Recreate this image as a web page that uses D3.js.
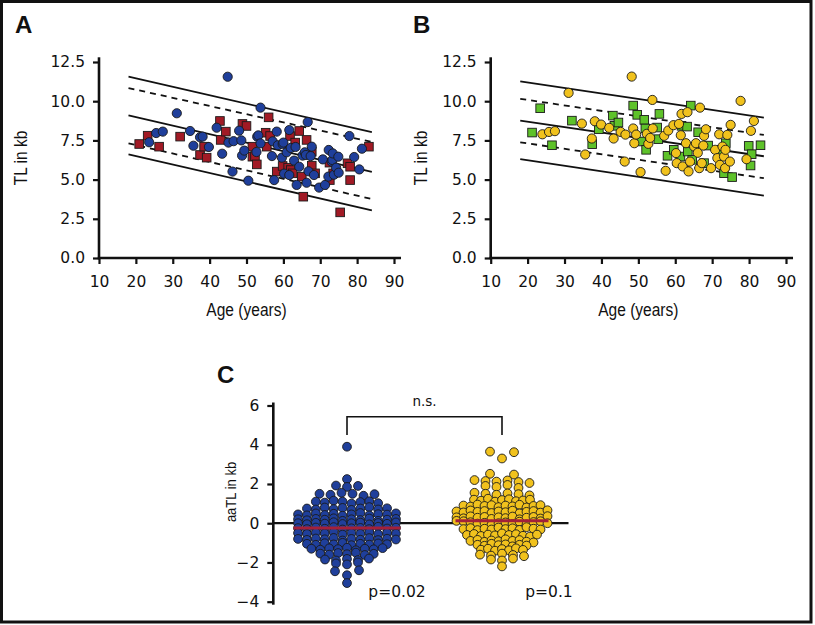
<!DOCTYPE html>
<html><head><meta charset="utf-8">
<script src="https://cdn.jsdelivr.net/npm/d3@7"></script>
<style>body{margin:0;background:#fff}svg{display:block}</style>
</head><body>
<script>
// ---------- DATA ----------
const xTicks = [10,20,30,40,50,60,70,80,90];
const yTicksAB = [0,2.5,5,7.5,10,12.5];
const yTicksC = [-4,-2,0,2,4,6];

// Panel A: blue circles [age, TL]
const aCircles = [[23.6,7.38],[25.5,7.97],[27.3,8.06],[31.1,9.23],[34.7,8.10],[35.6,7.16],[37.4,7.70],[38.1,7.74],[39.8,7.08],[41.9,8.31],[43.4,6.65],[44.9,11.56],[45.1,7.36],[46.2,5.51],[46.5,7.45],[48.0,8.12],[48.6,7.50],[48.8,6.53],[49.4,6.85],[50.5,4.93],[52.7,6.76],[52.9,7.74],[53.2,7.82],[53.8,9.59],[53.8,7.31],[56.9,6.50],[57.1,7.44],[57.5,4.97],[58.2,8.06],[58.5,7.19],[59.6,6.40],[59.8,7.27],[60.0,7.36],[60.2,5.38],[60.9,6.74],[61.6,8.16],[61.6,5.29],[62.0,7.02],[62.9,6.21],[63.3,7.08],[63.6,4.66],[64.3,5.82],[65.2,6.53],[65.8,6.74],[66.1,6.57],[66.3,4.80],[66.6,8.67],[66.8,5.53],[67.4,6.50],[67.7,7.10],[68.3,5.29],[69.7,4.49],[70.7,6.29],[71.3,4.66],[72.2,5.19],[72.3,6.89],[73.1,6.14],[73.3,6.25],[73.4,6.67],[73.7,5.31],[74.3,5.76],[74.9,6.46],[75.0,5.44],[77.9,7.78],[79.2,6.44],[80.6,5.65],[81.3,6.97]];
// Panel A: red squares
const aSquares = [[20.9,7.27],[23.2,7.80],[26.3,7.10],[32.0,7.74],[37.4,6.57],[38.5,7.10],[39.2,6.40],[42.8,8.74],[43.0,7.53],[44.4,8.06],[48.9,8.55],[50.0,8.42],[51.6,7.10],[51.6,6.46],[52.3,6.50],[52.8,5.97],[55.2,7.99],[55.5,7.10],[56.0,8.97],[56.4,7.78],[58.2,5.51],[59.8,5.87],[61.3,5.76],[61.8,7.78],[62.0,5.61],[62.5,5.40],[63.2,7.36],[64.3,8.10],[65.0,5.19],[65.4,3.91],[66.3,7.53],[67.7,6.78],[67.7,5.89],[68.6,5.40],[72.5,6.08],[72.6,4.97],[73.5,5.40],[75.4,2.91],[77.4,6.04],[78.1,5.82],[78.1,4.97],[83.2,7.10]];
// Panel B: yellow circles
const bCircles = [[24.0,7.89],[25.8,8.04],[27.4,8.09],[31.1,10.53],[34.7,8.57],[35.6,6.60],[37.4,7.62],[38.2,8.72],[39.9,8.51],[42.1,8.30],[43.3,7.62],[45.2,8.04],[46.3,6.15],[46.5,7.87],[48.2,11.57],[48.6,8.26],[48.9,7.32],[49.4,7.87],[50.6,5.48],[52.3,7.92],[52.7,7.28],[53.2,7.66],[53.8,10.08],[53.9,8.26],[57.0,7.79],[57.4,5.56],[58.1,8.13],[59.5,8.47],[60.2,6.69],[60.4,6.05],[61.0,8.55],[61.5,7.83],[61.7,9.19],[62.0,5.84],[62.9,7.32],[63.3,9.30],[63.6,5.52],[64.0,6.15],[65.1,7.11],[65.6,7.32],[66.1,6.71],[66.5,5.73],[66.7,9.59],[67.2,6.05],[67.6,7.17],[67.8,7.79],[68.3,8.21],[69.7,5.73],[70.8,6.90],[71.4,6.37],[71.9,7.89],[72.1,5.94],[72.8,7.11],[73.2,6.47],[73.5,5.73],[73.6,6.90],[74.1,7.85],[74.8,6.15],[75.0,8.49],[77.7,10.02],[79.3,6.30],[80.5,8.11],[81.3,8.74]];
// Panel B: green squares
const bSquares = [[21.2,8.00],[23.4,9.55],[26.6,7.19],[32.0,8.76],[37.5,7.26],[39.3,8.21],[43.1,9.08],[43.5,8.43],[44.6,8.64],[48.6,9.72],[49.7,9.13],[50.8,7.43],[51.6,8.81],[51.9,8.26],[52.1,6.90],[55.1,8.32],[55.4,7.58],[55.7,9.19],[57.9,6.52],[59.6,6.90],[61.4,6.47],[61.7,8.43],[63.2,8.38],[63.4,6.79],[64.2,9.72],[64.6,6.26],[66.2,8.02],[67.8,6.05],[68.9,7.17],[72.6,6.90],[73.2,5.41],[73.7,7.32],[75.4,5.16],[79.9,7.15],[80.4,5.90],[80.7,6.62],[83.1,7.19]];

// Reference bands: [value at age 18, value at age 84, dashed?]
const bandAges = [18,84];
const bandsA = [[11.56,8.02,false],[10.84,7.40,true],[9.10,5.50,false],[7.31,3.76,true],[6.61,3.04,false]];
const bandsB = [[11.27,8.95,false],[10.15,7.85,true],[8.76,6.49,false],[7.38,5.09,true],[6.30,3.98,false]];

// Panel C: aaTL values
const cGroups = ["blue","yellow"];
const cBlue = [3.9,2.25,1.92,1.85,1.9,1.5,1.45,1.55,1.5,1.4,1.48,1.1,1.05,1.15,1.1,1.0,1.08,1.12,1.02,
0.75,0.7,0.8,0.72,0.78,0.68,0.75,0.82,0.7,0.76,0.45,0.4,0.5,0.42,0.48,0.38,0.45,0.52,0.4,0.46,0.44,0.5,
0.2,0.15,0.22,0.18,0.25,0.12,0.2,0.16,0.24,0.12,0.18,0.22,0.0,-0.05,0.02,-0.02,0.05,-0.04,0.0,0.03,-0.06,0.01,-0.03,0.04,
-0.25,-0.3,-0.22,-0.28,-0.2,-0.32,-0.26,-0.24,-0.3,-0.18,-0.27,-0.23,-0.5,-0.55,-0.48,-0.52,-0.45,-0.58,-0.5,-0.54,-0.46,-0.56,-0.49,-0.53,
-0.8,-0.85,-0.78,-0.82,-0.75,-0.88,-0.8,-0.84,-0.76,-0.86,-0.79,-0.83,-1.05,-1.1,-1.02,-1.08,-1.0,-1.12,-1.05,-1.09,-1.03,-1.07,
-1.3,-1.35,-1.28,-1.32,-1.25,-1.38,-1.3,-1.33,-1.27,-1.55,-1.6,-1.52,-1.58,-1.5,-1.62,-1.56,-1.85,-1.9,-1.82,-1.88,-1.8,
-2.05,-2.1,-2.0,-2.45,-2.4,-2.65,-3.05];
const cYellow = [3.65,3.62,3.3,2.52,2.48,2.2,2.15,2.12,2.18,2.1,2.05,1.9,1.85,1.95,1.8,1.55,1.5,1.45,1.52,1.48,1.42,
1.2,1.15,1.25,1.1,1.18,1.22,1.12,1.16,1.2,0.9,0.85,0.95,0.88,0.92,0.82,0.9,0.86,0.94,0.8,0.88,0.92,
0.6,0.55,0.65,0.58,0.62,0.52,0.6,0.56,0.64,0.5,0.58,0.62,0.54,0.66,0.3,0.25,0.35,0.28,0.32,0.22,0.3,0.26,0.34,0.2,0.28,0.32,0.24,0.36,
0.12,0.1,0.05,-0.02,0.02,-0.08,0.0,0.04,-0.04,0.08,-0.06,0.06,0.1,0.0,
-0.3,-0.25,-0.35,-0.28,-0.32,-0.22,-0.3,-0.26,-0.34,-0.2,-0.28,-0.32,-0.6,-0.55,-0.65,-0.58,-0.62,-0.52,-0.6,-0.56,-0.64,-0.68,-0.58,
-0.9,-0.85,-0.95,-0.88,-0.92,-0.82,-0.9,-0.86,-0.94,-0.98,-1.1,-1.15,-1.05,-1.12,-1.08,-1.18,-1.1,-1.14,
-1.35,-1.3,-1.4,-1.32,-1.38,-1.28,-1.36,-1.6,-1.65,-1.55,-1.62,-1.68,-1.85,-1.9,-1.8,-2.2];
const pLabels = ["p=0.02","p=0.1"];

// ---------- STYLE ----------
const BLUE="#1f3f9b", RED="#a11a25", YEL="#f1c21d", GRN="#5ec22a", MED="#a3203a";
const W=815,H=625;
const svg=d3.select("body").append("svg").attr("width",W).attr("height",H);
svg.append("rect").attr("x",1.5).attr("y",1.5).attr("width",809.5).attr("height",620.5)
  .attr("fill","#fff").attr("stroke","#111").attr("stroke-width",3);

const tickFont="'DejaVu Sans',sans-serif";
const titleFont="'Liberation Sans',Arial,sans-serif";

function condText(g,x,y,txt,size,rot){
  g.append("text").attr("transform",`translate(${x},${y}) rotate(${rot}) scale(0.84,1)`)
   .attr("text-anchor","middle").attr("font-family",titleFont).attr("font-size",size).attr("fill","#111").text(txt);
}
function styleAxis(a){
  a.select(".domain").remove();
  a.selectAll("line").attr("stroke","#111").attr("stroke-width",2.2);
  a.selectAll("text").attr("font-family",tickFont).attr("font-size",15.5).attr("fill","#111");
}

function scatterPanel(xr, label, labelX, titleX, circles, squares, bands, cCol, sCol){
  const x=d3.scaleLinear().domain([10,90]).range(xr);
  const y=d3.scaleLinear().domain([0,12.5]).range([258,62]);
  const g=svg.append("g");
  const ya=g.append("g").attr("transform",`translate(${xr[0]},0)`)
    .call(d3.axisLeft(y).tickValues(yTicksAB).tickFormat(d3.format(".1f")).tickSize(6).tickSizeOuter(0).tickPadding(8));
  const xa=g.append("g").attr("transform",`translate(0,258)`)
    .call(d3.axisBottom(x).tickValues(xTicks).tickSize(6).tickSizeOuter(0).tickPadding(12));
  styleAxis(ya); styleAxis(xa);
  g.append("line").attr("x1",xr[0]).attr("x2",xr[0]).attr("y1",y(12.8)).attr("y2",259.2).attr("stroke","#111").attr("stroke-width",2.6);
  g.append("line").attr("x1",xr[0]-1.2).attr("x2",x(91.9)).attr("y1",258).attr("y2",258).attr("stroke","#111").attr("stroke-width",2.6);
  bands.forEach(b=>{
    g.append("line").attr("x1",x(bandAges[0])).attr("x2",x(bandAges[1])).attr("y1",y(b[0])).attr("y2",y(b[1]))
     .attr("stroke","#111").attr("stroke-width",1.8).attr("stroke-dasharray",b[2]?"6,5":null);
  });
  const s=8.6;
  g.selectAll("rect.sq").data(squares).join("rect").attr("class","sq")
    .attr("x",d=>x(d[0])-s/2).attr("y",d=>y(d[1])-s/2).attr("width",s).attr("height",s)
    .attr("fill",sCol).attr("stroke","#1a1a1a").attr("stroke-width",0.9);
  g.selectAll("circle").data(circles).join("circle")
    .attr("cx",d=>x(d[0])).attr("cy",d=>y(d[1])).attr("r",4.6)
    .attr("fill",cCol).attr("stroke","#1a1a1a").attr("stroke-width",0.9);
  condText(g,titleX,158,"TL in kb",18.5,-90);
  condText(g,(xr[0]+xr[1])/2,316,"Age (years)",18.5,0);
  g.append("text").attr("x",labelX).attr("y",33).attr("font-family",titleFont).attr("font-weight","bold").attr("font-size",24).attr("fill","#111").text(label);
}
scatterPanel([99,394],"A",15,27,aCircles,aSquares,bandsA,BLUE,RED);
scatterPanel([490.7,786],"B",413,427,bCircles,bSquares,bandsB,YEL,GRN);

// ---------- Panel C ----------
const yC=d3.scaleLinear().domain([-4,6]).range([601.7,405.5]);
const xC=d3.scalePoint().domain(cGroups).range([347,502]);
const gc=svg.append("g");
const yca=gc.append("g").attr("transform","translate(273.3,0)")
  .call(d3.axisLeft(yC).tickValues(yTicksC).tickSize(6).tickSizeOuter(0).tickPadding(8));
styleAxis(yca);
gc.append("line").attr("x1",273.3).attr("x2",273.3).attr("y1",yC(6)-3).attr("y2",yC(-4)+3).attr("stroke","#111").attr("stroke-width",2.6);
gc.append("line").attr("x1",273.3).attr("x2",568.5).attr("y1",yC(0)).attr("y2",yC(0)).attr("stroke","#111").attr("stroke-width",2.2);

// Prism-like row layout: values close together share a row and are spread evenly
function rowLayout(values,cx,baseSp){
  const idx=values.map((v,i)=>i).sort((a,b)=>values[b]-values[a]);
  const rows=[];
  idx.forEach(i=>{
    const r=rows[rows.length-1];
    if(r && values[r[r.length-1]]-values[i]<=0.055) r.push(i); else rows.push([i]);
  });
  const out=[];
  rows.forEach(r=>{
    r.sort((a,b)=>a-b);
    const n=r.length;
    const sp=n<2?0:Math.max(baseSp, n<=2?24:(n<=6?11:0));
    r.forEach((i,j)=>out.push({v:values[i],x:cx+(j-(n-1)/2)*sp,y:yC(values[i])}));
  });
  return out;
}
const groupVals={blue:cBlue,yellow:cYellow};
const groupCol={blue:BLUE,yellow:YEL};
const groupSp={blue:8.9,yellow:7.0};
cGroups.forEach((gname,i)=>{
  const pts=rowLayout(groupVals[gname],xC(gname),groupSp[gname]);
  gc.append("g").selectAll("circle").data(pts).join("circle")
    .attr("cx",d=>d.x).attr("cy",d=>d.y).attr("r",4.4)
    .attr("fill",groupCol[gname]).attr("stroke","#1a1a1a").attr("stroke-width",0.9);
  const med=d3.median(groupVals[gname]);
  const half= gname==="blue"?53.5:46.5;
  gc.append("line").attr("x1",xC(gname)-half).attr("x2",xC(gname)+half).attr("y1",yC(med)).attr("y2",yC(med))
    .attr("stroke",MED).attr("stroke-width",3);
  gc.append("text").attr("x",xC(gname)+(gname==="blue"?50:47)).attr("y",597).attr("text-anchor","middle")
    .attr("font-family",tickFont).attr("font-size",15.5).attr("fill","#111").text(pLabels[i]);
});
gc.append("path").attr("d",`M${xC("blue")},435 V416.7 H${xC("yellow")} V435`).attr("fill","none").attr("stroke","#111").attr("stroke-width",1.6);
gc.append("text").attr("x",(xC("blue")+xC("yellow"))/2).attr("y",406).attr("text-anchor","middle")
  .attr("font-family",tickFont).attr("font-size",13.5).attr("fill","#111").text("n.s.");
condText(gc,236,492,"aaTL in kb",15.5,-90);
gc.append("text").attr("x",217).attr("y",383).attr("font-family",titleFont).attr("font-weight","bold").attr("font-size",24).attr("fill","#111").text("C");
</script>
</body></html>
